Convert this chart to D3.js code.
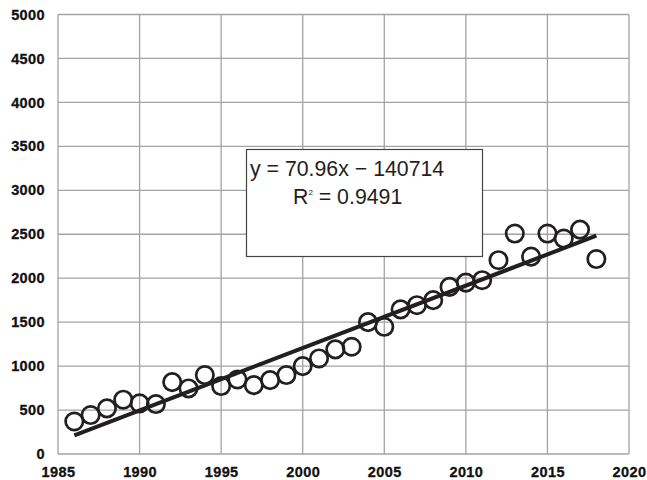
<!DOCTYPE html>
<html>
<head>
<meta charset="utf-8">
<script src="https://cdn.jsdelivr.net/npm/d3@7"></script>
<style>
  body { margin: 0; background: #fff; }
  svg { display: block; }
</style>
</head>
<body>
<script>
// data
const years = [1986, 1987, 1988, 1989, 1990, 1991, 1992, 1993, 1994, 1995, 1996,
  1997, 1998, 1999, 2000, 2001, 2002, 2003, 2004, 2005, 2006, 2007, 2008, 2009,
  2010, 2011, 2012, 2013, 2014, 2015, 2016, 2017, 2018];
const values = [370, 443, 519, 618, 576, 568, 818, 746, 898, 773, 848,
  784, 841, 898, 1000, 1087, 1190, 1220, 1500, 1447, 1645, 1693, 1750, 1901,
  1950, 1977, 2205, 2508, 2245, 2508, 2451, 2553, 2218];
const xTicks = [1985, 1990, 1995, 2000, 2005, 2010, 2015, 2020];
const yTicks = [0, 500, 1000, 1500, 2000, 2500, 3000, 3500, 4000, 4500, 5000];
const slope = 70.96, intercept = -140714;
const eqText = 'y = 70.96x \u2212 140714';
const r2Text = '0.9491';

const [w, h] = [647, 480];
const [plotL, plotR, plotT, plotB] = [58, 629, 14.5, 454];
const ink = '#231f20';

const svg = d3.select('body')
  .append('svg')
  .attr('width', w)
  .attr('height', h);

const xScale = d3.scaleLinear().domain([1985, 2020]).range([plotL, plotR]);
const yScale = d3.scaleLinear().domain([0, 5000]).range([plotB, plotT]);

// grid
const grid = svg.append('g').attr('stroke', '#a3a3a3').attr('stroke-width', 1.3);
grid.selectAll('.gx')
  .data(xTicks)
  .join('line')
  .attr('class', 'gx')
  .attr('x1', d => xScale(d))
  .attr('x2', d => xScale(d))
  .attr('y1', plotT)
  .attr('y2', plotB);
grid.selectAll('.gy')
  .data(yTicks)
  .join('line')
  .attr('class', 'gy')
  .attr('y1', d => yScale(d))
  .attr('y2', d => yScale(d))
  .attr('x1', plotL)
  .attr('x2', plotR);

// axes (labels only, lines come from grid)
const xAxis = d3.axisBottom(xScale).tickValues(xTicks).tickFormat(d3.format('d')).tickSize(0).tickPadding(13);
const yAxis = d3.axisLeft(yScale).tickValues(yTicks).tickFormat(d3.format('d')).tickSize(0).tickPadding(13);

const gx = svg.append('g').attr('transform', `translate(0, ${plotB})`).call(xAxis);
const gy = svg.append('g').attr('transform', `translate(${plotL}, 0)`).call(yAxis);
[gx, gy].forEach(g => {
  g.select('.domain').remove();
  g.selectAll('text')
    .attr('fill', '#111')
    .attr('stroke', '#111')
    .attr('stroke-width', 0.3)
    .style('font-family', '"Liberation Sans", Arial, sans-serif')
    .style('font-weight', 'bold')
    .style('font-size', '14.5px')
    .style('letter-spacing', '0.4px');
});

// equation box
const box = svg.append('g');
box.append('rect')
  .attr('x', 246.5)
  .attr('y', 149.5)
  .attr('width', 236)
  .attr('height', 107)
  .attr('fill', '#fff')
  .attr('stroke', '#444')
  .attr('stroke-width', 1.2);
box.append('text')
  .attr('x', 250)
  .attr('y', 176)
  .attr('fill', ink)
  .style('font-family', '"Liberation Sans", Arial, sans-serif')
  .style('font-size', '21.3px')
  .text(eqText);
const r2 = box.append('text')
  .attr('x', 293)
  .attr('y', 204)
  .attr('fill', ink)
  .style('font-family', '"Liberation Sans", Arial, sans-serif')
  .style('font-size', '21.3px');
r2.append('tspan').text('R');
r2.append('tspan').attr('dy', -9).style('font-size', '8px').text('2');
r2.append('tspan').attr('dy', 9).text(' = ' + r2Text);

// points
svg.append('g')
  .selectAll('circle')
  .data(years)
  .join('circle')
  .attr('cx', d => xScale(d))
  .attr('cy', (d, i) => yScale(values[i]))
  .attr('r', 8.7)
  .attr('fill', 'none')
  .attr('stroke', ink)
  .attr('stroke-width', 2.7);

// trend line
const x0 = d3.min(years), x1 = d3.max(years);
svg.append('line')
  .attr('x1', xScale(x0))
  .attr('y1', yScale(slope * x0 + intercept))
  .attr('x2', xScale(x1))
  .attr('y2', yScale(slope * x1 + intercept))
  .attr('stroke', ink)
  .attr('stroke-width', 4);
</script>
</body>
</html>
